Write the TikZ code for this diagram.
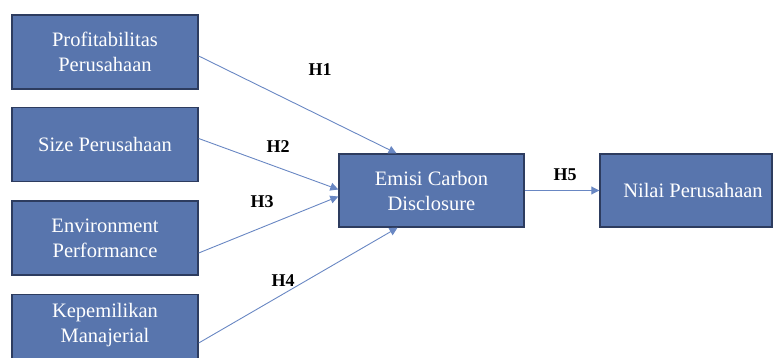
\documentclass[tikz,border=0pt]{standalone}
\usepackage{fontspec}
\setmainfont{Liberation Serif}
\usepackage{tikz}
\usetikzlibrary{arrows.meta, positioning}

\definecolor{boxblue}{RGB}{88,117,173}
\definecolor{boxline}{RGB}{45,60,95}
\definecolor{arrline}{RGB}{105,135,195}

\tikzset{
    varbox/.style={draw=boxline, line width=1.4pt, fill=boxblue, text=white,
        minimum width=186pt, minimum height=74pt, align=center,
        font=\fontsize{20.5}{25}\selectfont},
    arr/.style={draw=arrline, line width=0.9pt, -{Triangle[length=8pt,width=8pt]}},
    hlabel/.style={font=\bfseries\fontsize{18}{20}\selectfont, text=black}
}

\begin{document}
\begin{tikzpicture}[x=1pt, y=-1pt]
                \path[use as bounding box, clip] (0,0) rectangle (773,358);

                \node[varbox] (prof) at (105, 52) {Profitabilitas\\Perusahaan};
                \node[varbox] (size) at (105, 144.5) {Size Perusahaan};
                \node[varbox] (env) at (105, 238) {Environment\\Performance};
                \node[varbox, anchor=north, inner ysep=9pt, text depth=50pt] (kep) at (105, 294) {Kepemilikan\\Manajerial};
                \node[varbox, minimum width=185pt, minimum height=73pt] (ecd) at (431.5, 190.5) {Emisi Carbon\\Disclosure};
                \node[varbox, minimum width=172pt, minimum height=73pt] (nilai) at (686, 190.5) {\hspace*{14pt}Nilai Perusahaan};

                \draw[arr] ([yshift=-4pt]prof.east) -- ([xshift=-35pt]ecd.north);
                \draw[arr] ([yshift=6pt]size.east) -- ([yshift=1pt]ecd.west);
                \draw[arr] ([yshift=-15pt]env.east) -- ([yshift=-6pt]ecd.west);
                \draw[arr] ([yshift=-6pt]kep.east |- 0,337) -- ([xshift=-34pt]ecd.south);
                \draw[arr] (ecd) -- (nilai);

                \node[hlabel] (h1) at (320, 70) {H1};
                \node[hlabel] (h2) at (278, 147) {H2};
                \node[hlabel] (h3) at (262, 202) {H3};
                \node[hlabel] (h4) at (283, 281) {H4};
                \node[hlabel] (h5) at (565, 175) {H5};
            \end{tikzpicture}
\end{document}
